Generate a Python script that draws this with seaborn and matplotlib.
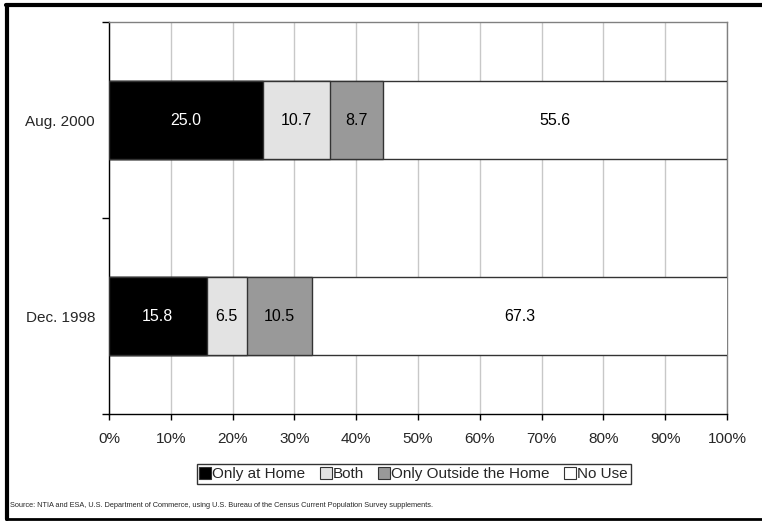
import pandas as pd
import matplotlib.pyplot as plt
import seaborn as sns
from matplotlib.lines import Line2D
from matplotlib.ticker import FuncFormatter

# data
periods = ["Aug. 2000", "Dec. 1998"]
only_home = [25.0, 15.8]
both = [10.7, 6.5]
only_outside = [8.7, 10.5]
no_use = [55.6, 67.3]

series = ["Only at Home", "Both", "Only Outside the Home", "No Use"]
colors = ["#000000", "#e3e3e3", "#999999", "#ffffff"]
text_colors = ["white", "black", "black", "black"]

sns.set_style("white")
plt.rcParams["font.family"] = ["Liberation Sans", "DejaVu Sans"]

df = pd.DataFrame({"Period": periods, "Only at Home": only_home, "Both": both,
                   "Only Outside the Home": only_outside, "No Use": no_use})
cum = df[series].cumsum(axis=1)

fig = plt.figure(figsize=(7.62, 5.27), dpi=100)
ax = fig.add_axes([0.143, 0.2144, 0.811, 0.7436])

# draw cumulative totals from the right so each segment shows
for s, c in reversed(list(zip(series, colors))):
    sns.barplot(x=cum[s], y=df["Period"], color=c, orient="h", width=0.4,
                edgecolor="#333333", linewidth=1, ax=ax, saturation=1, zorder=3)

# segment labels
for i, p in enumerate(periods):
    left = 0
    for s, tc in zip(series, text_colors):
        v = df.loc[i, s]
        ax.text(left + v / 2, i, f"{v:.1f}", ha="center", va="center",
                color=tc, fontsize=11.5, zorder=4)
        left += v

ax.set_xlim(0, 100)
ax.set_ylim(1.5, -0.5)
ax.set_xticks(range(0, 101, 10))
ax.xaxis.set_major_formatter(FuncFormatter(lambda v, _: f"{v:.0f}%"))
ax.set_yticks([0, 1])
ax.set_yticks([-0.5, 0.5, 1.5], minor=True)
ax.tick_params(axis="y", which="major", length=0, labelsize=11, pad=10)
ax.tick_params(axis="y", which="minor", length=5, width=1, color="black", left=True)
ax.tick_params(axis="x", length=4, width=1, color="black", bottom=True, labelsize=11, pad=9)
ax.set_xlabel("")
ax.set_ylabel("")
ax.xaxis.grid(True, color="#c8c8c8", linewidth=1, zorder=0)
ax.set_axisbelow(True)
for side in ["left", "bottom"]:
    ax.spines[side].set_color("black")
    ax.spines[side].set_linewidth(1)
for side in ["top", "right"]:
    ax.spines[side].set_color("#808080")
    ax.spines[side].set_linewidth(1)

handles = [Line2D([0], [0], marker="s", linestyle="", markersize=8,
                  markerfacecolor=c, markeredgecolor="#333333", markeredgewidth=0.8)
           for c in colors]
leg = fig.legend(handles, series, loc="center", bbox_to_anchor=(0.543, 0.1006),
                 ncol=4, frameon=True, fancybox=False, fontsize=11,
                 handlelength=0.7, handletextpad=0.1, columnspacing=1.0,
                 borderpad=0.2, borderaxespad=0)
leg.get_frame().set_edgecolor("black")
leg.get_frame().set_linewidth(1)

fig.text(0.013, 0.04, "Source: NTIA and ESA, U.S. Department of Commerce, using U.S. Bureau of the "
         "Census Current Population Survey supplements.", fontsize=5.3, va="center")

# outer frame (left, top, bottom)
fig.add_artist(Line2D([0.0098, 0.0098], [0.015, 0.99], color="black", linewidth=3,
                      transform=fig.transFigure))
fig.add_artist(Line2D([0.0078, 1.0], [0.99, 0.99], color="black", linewidth=3,
                      transform=fig.transFigure))
fig.add_artist(Line2D([0.0078, 1.0], [0.015, 0.015], color="black", linewidth=2,
                      transform=fig.transFigure))

fig.savefig("out.png", dpi=100)
